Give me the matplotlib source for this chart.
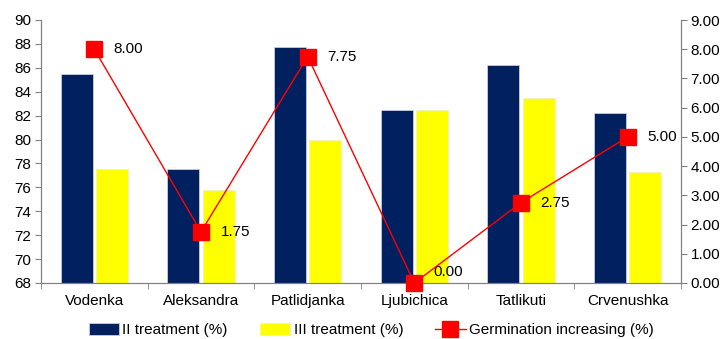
import matplotlib.pyplot as plt
import numpy as np

plt.rcParams['font.family'] = ['Liberation Sans', 'DejaVu Sans']

varieties = ['Vodenka', 'Aleksandra', 'Patlidjanka', 'Ljubichica', 'Tatlikuti', 'Crvenushka']
treatment_2 = [85.5, 77.5, 87.75, 82.5, 86.25, 82.25]
treatment_3 = [77.5, 75.75, 80.0, 82.5, 83.5, 77.25]
germination = [8.00, 1.75, 7.75, 0.00, 2.75, 5.00]

fig = plt.figure(figsize=(7.25, 3.39), dpi=100)
ax = fig.add_axes([41 / 725, 1 - 283 / 339, 640 / 725, 263 / 339])
x = np.arange(len(varieties))
w = 0.3

ax.bar(x - w / 2 - 0.015, treatment_2, w, color='#00205F', edgecolor='#c8cce0',
       linewidth=0.6, label='II treatment (%)')
ax.bar(x + w / 2 + 0.015, treatment_3, w, color='#FFFF00', edgecolor='#f0f0c0',
       linewidth=0.6, label='III treatment (%)')
ax.set_ylim(68, 90)
ax.set_yticks(np.arange(68, 91, 2))
ax.set_xlim(-0.5, len(varieties) - 0.5)
ax.set_xticks(x)
ax.set_xticklabels(varieties)
ax.set_xticks(np.arange(-0.5, len(varieties), 1), minor=True)
ax.tick_params(axis='x', which='major', length=0, pad=8, labelsize=11)
ax.tick_params(axis='x', which='minor', length=4, color='#808080')
ax.tick_params(axis='y', length=4, color='#808080', labelsize=11, pad=3)

ax2 = ax.twinx()
ax2.plot(x, germination, color='#FF0000', lw=1, marker='s', markersize=11,
         clip_on=False, zorder=5, label='Germination increasing (%)')
ax2.set_ylim(0, 9)
ax2.set_yticks(np.arange(0, 9.5, 1))
ax2.set_yticklabels(['%.2f' % v for v in np.arange(0, 9.5, 1)])
ax2.tick_params(axis='y', length=4, color='#808080', labelsize=11, pad=3)

for xi, g in zip(x, germination):
    dy = 8 if g == 0 else 0
    ax2.annotate('%.2f' % g, (xi, g), xytext=(14, dy), textcoords='offset points',
                 ha='left', va='center', fontsize=11)

for a in (ax, ax2):
    a.spines['top'].set_visible(False)
    for s in ('left', 'right', 'bottom'):
        a.spines[s].set_color('#808080')

h1, l1 = ax.get_legend_handles_labels()
h2, l2 = ax2.get_legend_handles_labels()
fig.legend(h1 + h2, l1 + l2, loc='center', bbox_to_anchor=(0.512, 0.026), ncol=3,
           frameon=False, fontsize=11, handlelength=2.0, handleheight=0.8,
           columnspacing=2.1, handletextpad=0.2)

plt.savefig('out.png', dpi=100)
